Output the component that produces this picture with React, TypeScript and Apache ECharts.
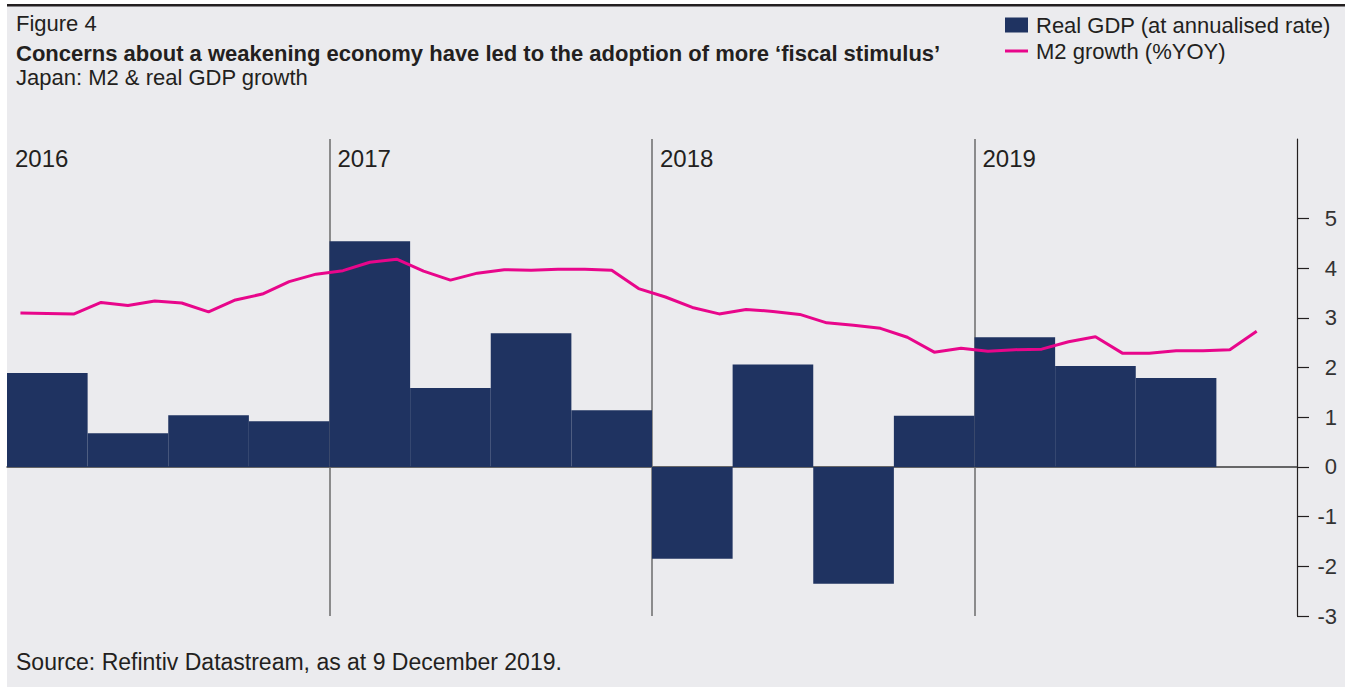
import React, { useEffect, useRef } from "react";
import * as echarts from "echarts";

const quarters = [
  "2016Q1", "2016Q2", "2016Q3", "2016Q4",
  "2017Q1", "2017Q2", "2017Q3", "2017Q4",
  "2018Q1", "2018Q2", "2018Q3", "2018Q4",
  "2019Q1", "2019Q2", "2019Q3", "2019Q4",
];
const realGdp: (number | null)[] = [
  1.89, 0.68, 1.04, 0.92,
  4.54, 1.59, 2.69, 1.14,
  -1.85, 2.06, -2.35, 1.03,
  2.61, 2.03, 1.79, null,
];
// monthly, Jan 2016 .. Nov 2019
const m2Growth: number[] = [
  3.10, 3.09, 3.08, 3.31, 3.25, 3.34, 3.30, 3.12, 3.36, 3.48, 3.73, 3.88,
  3.95, 4.12, 4.18, 3.94, 3.76, 3.90, 3.97, 3.96, 3.98, 3.98, 3.96, 3.59,
  3.42, 3.21, 3.08, 3.17, 3.13, 3.07, 2.90, 2.85, 2.79, 2.61, 2.31, 2.39,
  2.33, 2.36, 2.37, 2.52, 2.62, 2.29, 2.29, 2.34, 2.34, 2.36, 2.73,
];
const yearLabels = ["2016", "2017", "2018", "2019"];
const yTicks = [-3, -2, -1, 0, 1, 2, 3, 4, 5];

const GDP_NAME = "Real GDP (at annualised rate)";
const M2_NAME = "M2 growth (%YOY)";
const FONT = "Liberation Sans";
const TXT = "#231f20";

export default function App() {
  const ref = useRef<HTMLDivElement>(null);
  useEffect(() => {
    if (!ref.current) return;
    const chart = echarts.init(ref.current, null, { renderer: "svg" });
    const option: any = {
      animation: false,
      backgroundColor: "#ffffff",
      textStyle: { fontFamily: FONT },
      graphic: [
        { type: "rect", silent: true, z: -10, shape: { x: 7, y: 5, width: 1338, height: 682 }, style: { fill: "#ebebee" } },
        { type: "rect", silent: true, z: -9, shape: { x: 7, y: 4, width: 1338, height: 2.5 }, style: { fill: "#231f20" } },
        { type: "text", x: 16, y: 23, style: { text: "Figure 4", font: `22px '${FONT}'`, fill: TXT, verticalAlign: "middle" } },
        { type: "text", x: 16, y: 53, style: { text: "Concerns about a weakening economy have led to the adoption of more \u2018fiscal stimulus\u2019", font: `bold 22px '${FONT}'`, fill: TXT, verticalAlign: "middle" } },
        { type: "text", x: 16, y: 77, style: { text: "Japan: M2 & real GDP growth", font: `22px '${FONT}'`, fill: TXT, verticalAlign: "middle" } },
        { type: "text", x: 16, y: 662, style: { text: "Source: Refintiv Datastream, as at 9 December 2019.", font: `23px '${FONT}'`, fill: TXT, verticalAlign: "middle" } },
      ],
      legend: {
        orient: "vertical",
        left: 1005,
        top: 14,
        padding: 0,
        itemGap: 4,
        itemWidth: 23,
        itemHeight: 15,
        textStyle: { fontSize: 22, color: TXT, fontFamily: FONT, lineHeight: 20, padding: [0, 0, 0, 3] },
        data: [
          { name: GDP_NAME, icon: "rect" },
          { name: M2_NAME, icon: "path://M0,0H23V3H0Z" },
        ],
      },
      grid: { left: 7, right: 57, top: 139, bottom: 71, containLabel: false },
      xAxis: [
        {
          type: "category",
          data: quarters,
          boundaryGap: true,
          axisLine: { onZero: true, lineStyle: { color: "#3a3a3a", width: 1.5 } },
          axisTick: { show: false },
          axisLabel: { show: false },
          splitLine: { show: false },
        },
        {
          type: "value",
          min: 0,
          max: 48,
          show: false,
        },
        {
          type: "value",
          position: "top",
          min: 0,
          max: 48,
          interval: 12,
          axisLine: { show: false, onZero: false },
          axisTick: { show: false },
          splitLine: { show: false },
          axisLabel: {
            inside: true,
            showMaxLabel: false,
            showMinLabel: true,
            align: "left",
            verticalAlign: "middle",
            margin: 19,
            padding: [0, 0, 0, 8],
            fontSize: 24,
            color: TXT,
            fontFamily: FONT,
            formatter: (v: number) => yearLabels[Math.round(v / 12)] ?? "",
          },
        },
      ],
      yAxis: {
        type: "value",
        position: "right",
        min: -3,
        max: 6.6,
        interval: 1,
        axisLine: { show: true, onZero: false, lineStyle: { color: "#231f20", width: 1.2 } },
        axisTick: { show: true, inside: false, length: 12, customValues: yTicks, lineStyle: { color: "#231f20", width: 1.2 } },
        axisLabel: {
          customValues: yTicks,
          align: "right",
          margin: 40,
          fontSize: 22,
          color: "#333333",
          fontFamily: FONT,
        },
        splitLine: { show: false },
      },
      series: [
        {
          name: GDP_NAME,
          type: "bar",
          xAxisIndex: 0,
          data: realGdp,
          barWidth: "100%",
          barCategoryGap: "0%",
          itemStyle: { color: "#1f3361" },
          z: 2,
        },
        {
          name: M2_NAME,
          type: "line",
          xAxisIndex: 1,
          data: m2Growth.map((v, i) => [i + 0.5, v]),
          showSymbol: false,
          symbol: "none",
          lineStyle: { color: "#e8068b", width: 3 },
          itemStyle: { color: "#e8068b" },
          z: 3,
          markLine: {
            silent: true,
            symbol: "none",
            label: { show: false },
            lineStyle: { color: "#6b6b6b", width: 1.5, type: "solid" },
            data: [{ xAxis: 12 }, { xAxis: 24 }, { xAxis: 36 }],
            z: 1,
          },
        },
      ],
    };
    chart.setOption(option);
    return () => chart.dispose();
  }, []);
  return (
    <div
      ref={ref}
      style={{ position: "fixed", left: 0, top: 0, width: 1354, height: 687 }}
    />
  );
}
